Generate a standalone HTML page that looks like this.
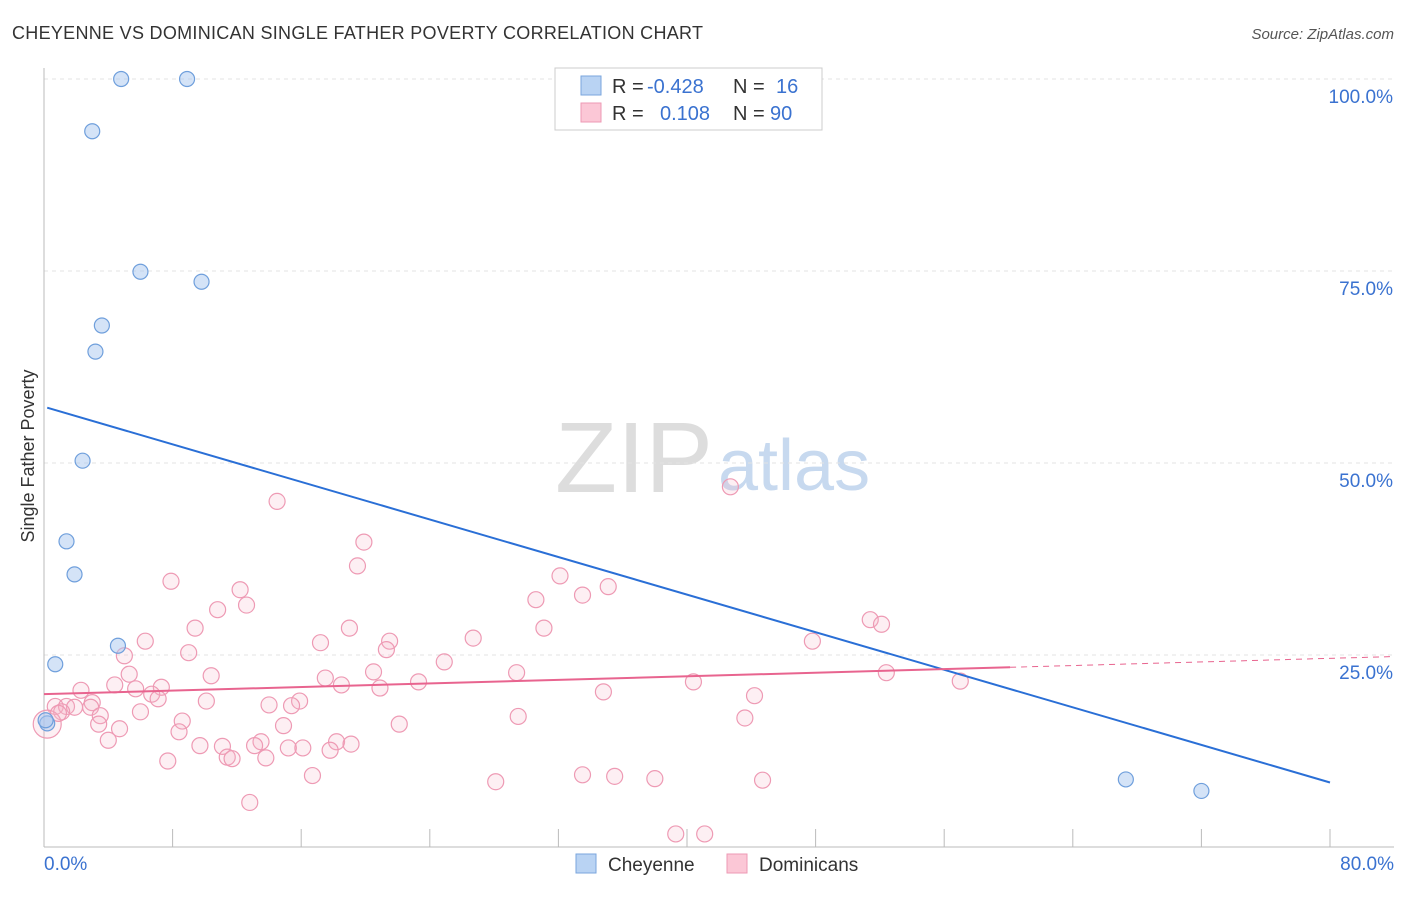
<!DOCTYPE html>
<html><head><meta charset="utf-8"><style>
body{margin:0;background:#fff;font-family:"Liberation Sans",sans-serif;}
svg text{font-family:"Liberation Sans",sans-serif;}
</style></head><body>
<svg id="c" width="1406" height="892">
<text x="12" y="39" font-size="18" fill="#333" textLength="691">CHEYENNE VS DOMINICAN SINGLE FATHER POVERTY CORRELATION CHART</text>
<text x="1394" y="39" font-size="15" fill="#555" text-anchor="end" font-style="italic">Source: ZipAtlas.com</text>
<text x="34" y="456" font-size="18" fill="#333" text-anchor="middle" transform="rotate(-90 34 456)">Single Father Poverty</text>
<text x="555" y="492" font-size="100" fill="#ddd" textLength="158" lengthAdjust="spacingAndGlyphs" font-family="Liberation Serif">ZIP</text>
<text x="718" y="490" font-size="72" fill="#c7d9ef">atlas</text>
<g id="grid"></g><g id="pts"></g><g id="lines"></g>
<g>
<rect x="555" y="68" width="267" height="62" fill="#fff" stroke="#ccc"/>
<rect x="581" y="76" width="20" height="19" fill="#b9d3f3" stroke="#7aa6dd"/>
<rect x="581" y="103" width="20" height="19" fill="#fbc7d6" stroke="#ee9ab4"/>
<text x="612" y="93" font-size="20" fill="#333">R =</text>
<text x="647" y="93" font-size="20" fill="#3a72d0">-0.428</text>
<text x="733" y="93" font-size="20" fill="#333">N =</text>
<text x="776" y="93" font-size="20" fill="#3a72d0">16</text>
<text x="612" y="120" font-size="20" fill="#333">R =</text>
<text x="660" y="120" font-size="20" fill="#3a72d0">0.108</text>
<text x="733" y="120" font-size="20" fill="#333">N =</text>
<text x="770" y="120" font-size="20" fill="#3a72d0">90</text>
</g>
<g>
<rect x="576" y="854" width="20" height="19" fill="#b9d3f3" stroke="#7aa6dd"/>
<text x="608" y="871" font-size="19" fill="#333">Cheyenne</text>
<rect x="727" y="854" width="20" height="19" fill="#fbc7d6" stroke="#ee9ab4"/>
<text x="759" y="871" font-size="19" fill="#333">Dominicans</text>
</g>
</svg>
<script>
const yTicks=[25,50,75,100];
const xTickLabels=["0.0%","80.0%"];
const blueX=[4.8,8.9,3.0,6.0,9.8,3.6,3.2,2.4,1.4,1.9,4.6,0.7,0.2,67.3,72.0,0.1];
const blueY=[100,100,93.2,74.9,73.6,67.9,64.5,50.3,39.8,35.5,26.2,23.8,16.1,8.8,7.3,16.5];
const pinkX=[14.5,42.7,19.9,19.5,7.9,32.1,35.1,33.5,12.2,30.6,12.6,10.8,51.4,52.1,9.4,19.0,31.1,6.3,17.2,26.7,47.8,21.5,21.3,9.0,5.0,24.9,5.3,10.4,20.5,17.5,29.4,52.4,57.0,40.4,23.3,4.4,18.5,7.3,2.3,5.7,20.9,34.8,44.2,6.7,7.1,3.0,15.9,0.7,1.4,1.9,2.9,10.1,14.0,15.4,1.1,3.5,6.0,29.5,43.6,8.6,3.4,14.9,22.1,4.7,8.4,13.5,18.2,11.1,16.1,17.8,4.0,9.7,13.1,15.2,19.1,11.4,11.7,13.8,7.7,16.7,33.5,35.5,38.0,44.7,28.1,12.8,39.3,41.1,0.2,0.9];
const pinkY=[45.0,46.9,39.7,36.6,34.6,35.3,33.9,32.8,33.5,32.2,31.5,30.9,29.6,29.0,28.5,28.5,28.5,26.8,26.6,27.2,26.8,26.8,25.7,25.3,24.9,24.1,22.5,22.3,22.8,22.0,22.7,22.7,21.6,21.5,21.5,21.1,21.1,20.8,20.4,20.6,20.7,20.2,19.7,19.9,19.3,18.8,19.0,18.3,18.3,18.2,18.2,19.0,18.5,18.4,17.6,17.1,17.6,17.0,16.8,16.4,16.0,15.8,16.0,15.4,15.0,13.7,13.7,13.1,12.9,12.6,13.9,13.2,13.2,12.9,13.4,11.7,11.5,11.6,11.2,9.3,9.4,9.2,8.9,8.7,8.5,5.8,1.7,1.7,16.0,17.4];
const X0=44,X1=1330,Y0=847,YS=7.68;
const sx=v=>X0+(X1-X0)*v/80, sy=v=>Y0-v*YS;
const NS="http://www.w3.org/2000/svg";
function mk(t,a,p){const e=document.createElementNS(NS,t);for(const k in a)e.setAttribute(k,a[k]);p.appendChild(e);return e;}
const g=document.getElementById('grid');
yTicks.forEach(t=>{
 const l=mk('line',{x1:44,x2:1394,y1:sy(t),y2:sy(t),stroke:'#e3e3e3','stroke-dasharray':'4,4'},g);
 
 
 const tx=mk('text',{x:1393,y:sy(t)+24,'font-size':19,fill:'#3a72d0','text-anchor':'end'},g);
 tx.textContent=t.toFixed(1)+'%';
 
 
});
mk('line',{x1:44,x2:44,y1:68,y2:847,stroke:'#bbb'},g);
mk('line',{x1:44,x2:1394,y1:847,y2:847,stroke:'#bbb'},g);
for(let i=0;i<=10;i++){const x=sx(i*8);mk('line',{x1:x,x2:x,y1:829,y2:847,stroke:'#bbb'},g);}
[[0,'start',44],[1,'end',1394]].forEach(([i,a,x])=>{
 const t=mk('text',{x:x,y:870,'font-size':19,fill:'#3a72d0','text-anchor':a},g);
 t.textContent=xTickLabels[i];
 
 
});
const P=document.getElementById('pts');
pinkX.forEach((v,i)=>{
 const c=mk('circle',{cx:sx(v),cy:sy(pinkY[i]),r:i===88?14:8,fill:'rgba(248,180,200,0.22)',stroke:'#ee9ab4','stroke-width':1.2},P);
 
 
});
blueX.forEach((v,i)=>{
 const c=mk('circle',{cx:sx(v),cy:sy(blueY[i]),r:7.5,fill:'rgba(170,200,240,0.5)',stroke:'#6f9fdc','stroke-width':1.2},P);
 
 
});
const L=document.getElementById('lines');
const bl=mk('line',{x1:sx(0.2),y1:sy(57.2),x2:sx(80),y2:sy(8.4),stroke:'#2a6fd6','stroke-width':2},L);


const pl=mk('line',{x1:sx(0),y1:sy(19.9),x2:sx(60.1),y2:sy(23.4),stroke:'#e8648f','stroke-width':2},L);


const pd=mk('line',{x1:sx(60.1),y1:sy(23.4),x2:sx(84),y2:sy(24.8),stroke:'#e8648f','stroke-width':1,'stroke-dasharray':'6,5'},L);


</script>
</body></html>
